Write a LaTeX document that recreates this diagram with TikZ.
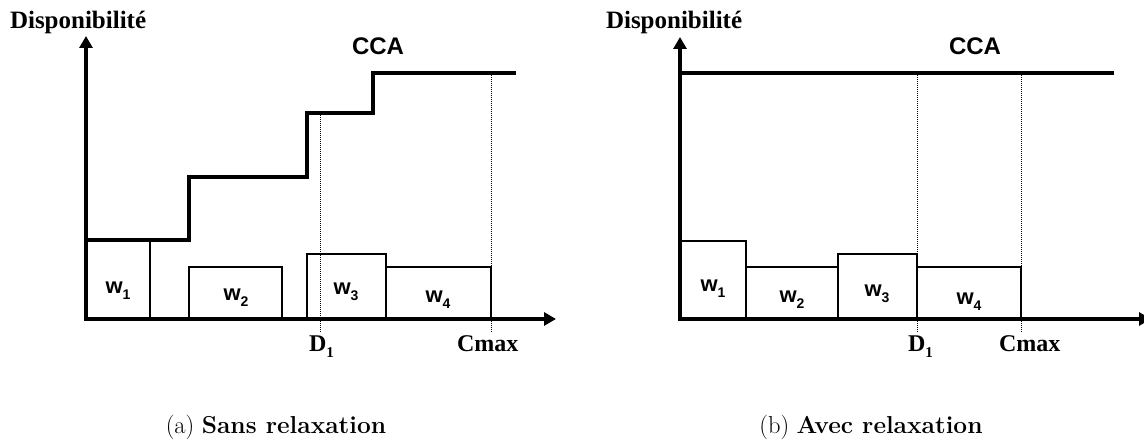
\documentclass[tikz,border=0pt]{standalone}
\usepackage{fontspec}
\newfontfamily\tnr{Liberation Serif}
\newfontfamily\ari{Liberation Sans}
\usetikzlibrary{arrows.meta}
\tikzset{
  axis/.style={line width=3.2pt, {Triangle[length=12pt,width=13pt]}-{Triangle[length=12pt,width=13pt]}},
  cca/.style={line width=3.5pt},
  wbox/.style={draw, line width=1.5pt},
  guide/.style={line width=1pt, dash pattern=on 1pt off 1pt},
  lbl/.style={inner sep=0pt, outer sep=0pt},
  ylab/.style={lbl, anchor=base west, font=\tnr\bfseries\fontsize{25}{25}\selectfont},
  ccalab/.style={lbl, anchor=base, font=\ari\bfseries\fontsize{24}{24}\selectfont},
  wlab/.style={lbl, anchor=base, font=\ari\bfseries\fontsize{22}{22}\selectfont},
  tlab/.style={lbl, anchor=base west, font=\tnr\bfseries\fontsize{24}{24}\selectfont},
  caplab/.style={lbl, anchor=base, font=\fontsize{24.5}{29}\selectfont},
}
\newcommand\wsub[1]{w\raisebox{-6pt}{\fontsize{14}{14}\selectfont #1}}
\newcommand\dsub[1]{D\raisebox{-6pt}{\fontsize{15}{15}\selectfont #1}}
\begin{document}
\begin{tikzpicture}[x=1pt,y=-1pt]
\useasboundingbox (0,0) rectangle (1144,441);
% ---------------- left panel ----------------
\coordinate (lo) at (86,319);
\coordinate (ly) at (86,36);
\coordinate (lx) at (556,319);
\draw[wbox] (86,241) rectangle (150,319);
\draw[wbox] (189,267) rectangle (282,319);
\draw[wbox] (307,254) rectangle (386,319);
\draw[wbox] (386,267) rectangle (491,319);
\coordinate (ld1t) at (320,113);
\coordinate (ld1b) at (320,333);
\coordinate (lcmt) at (491,73);
\coordinate (lcmb) at (491,333);
\draw[guide] (ld1t) -- (ld1b);
\draw[guide] (lcmt) -- (lcmb);
\draw[cca] (86,240) -- (189,240) -- (189,177) -- (307,177) -- (307,113) -- (373,113) -- (373,73) -- (516,73);
\draw[axis] (ly) -- (lo) -- (lx);
\node[ylab] (ldisp) at (10,29) {Disponibilité};
\node[ccalab] (lcca) at (378,55) {CCA};
\node[wlab] (lw1) at (118,293) {\wsub{1}};
\node[wlab] (lw2) at (236,300) {\wsub{2}};
\node[wlab] (lw3) at (346,294) {\wsub{3}};
\node[wlab] (lw4) at (438,302) {\wsub{4}};
\node[tlab] (ld1) at (309,351) {\dsub{1}};
\node[tlab] (lcmax) at (457,351) {Cmax};
\node[caplab] (lcap) at (276,433) {(a) \textbf{Sans relaxation}};
% ---------------- right panel ----------------
\coordinate (ro) at (680,319);
\coordinate (ry) at (680,37);
\coordinate (rx) at (1151,319);
\draw[wbox] (680,241) rectangle (746,319);
\draw[wbox] (746,267) rectangle (838,319);
\draw[wbox] (838,254) rectangle (917,319);
\draw[wbox] (917,267) rectangle (1021,319);
\coordinate (rd1t) at (917,73);
\coordinate (rd1b) at (917,333);
\coordinate (rcmt) at (1021,73);
\coordinate (rcmb) at (1021,333);
\draw[guide] (rd1t) -- (rd1b);
\draw[guide] (rcmt) -- (rcmb);
\draw[cca] (680,73) -- (1114,73);
\draw[axis] (ry) -- (ro) -- (rx);
\node[ylab] (rdisp) at (606,29) {Disponibilité};
\node[ccalab] (rcca) at (975,55) {CCA};
\node[wlab] (rw1) at (713,291) {\wsub{1}};
\node[wlab] (rw2) at (792,302) {\wsub{2}};
\node[wlab] (rw3) at (877,296) {\wsub{3}};
\node[wlab] (rw4) at (969,304) {\wsub{4}};
\node[tlab] (rd1) at (908,351) {\dsub{1}};
\node[tlab] (rcmax) at (999,351) {Cmax};
\node[caplab] (rcap) at (871,433) {(b) \textbf{Avec relaxation}};
\end{tikzpicture}
\end{document}
